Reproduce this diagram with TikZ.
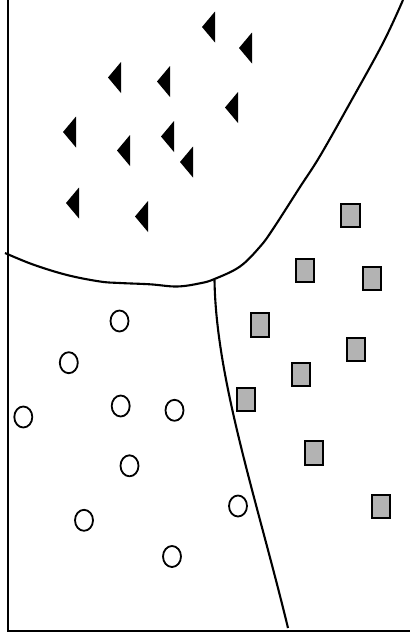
\documentclass[tikz,border=0pt]{standalone}
\usetikzlibrary{shapes.geometric}
\definecolor{sqgray}{RGB}{179,179,179}
\begin{document}
\begin{tikzpicture}[x=1pt,y=-1pt,
  axisline/.style={line width=2pt},
  boundary/.style={line width=2.1pt},
  ptcircle/.style={draw,ellipse,line width=1.8pt,minimum width=18pt,minimum height=21pt,inner sep=0pt},
  ptsquare/.style={draw,rectangle,fill=sqgray,line width=2pt,minimum width=18.5pt,minimum height=23.5pt,inner sep=0pt},
  tri/.pic={\fill[black] (-6.5,0) -- (6.5,-15.5) -- (6.5,15.5) -- cycle;}
]
\useasboundingbox (0,0) rectangle (410,640);
% axes
\coordinate (top) at (8,0);
\coordinate (origin) at (8,631);
\coordinate (right) at (410,631);
\draw[axisline] (top) -- (origin) -- (right);
% boundaries
\coordinate (junction) at (214.5,280);
\coordinate (bottomend) at (288,628);
\draw[boundary] plot[smooth,tension=0.6] coordinates {(5,253) (33,264.5) (67,275) (100,281.5) (120,283) (150,284.3) (177,286.5) (200,283.3) (214.5,279) (240,266.5) (260,246.7) (273,229) (300,187) (320,156) (350,103) (383,43) (403,0)};
\draw[boundary] (junction) .. controls (216,380) and (257,500) .. (bottomend);
% triangles
\foreach \x/\y in {208.5/27, 245.5/48, 114.5/77.5, 163.5/81.5, 231.5/107.5, 69.5/132, 123.5/150.5, 167.5/136.5, 186.5/162, 72.5/203, 141.5/216.5}
  \pic at (\x,\y) {tri};
% squares
\node[ptsquare] (s1) at (350.5,215.5) {};
\node[ptsquare] (s2) at (305,270.5) {};
\node[ptsquare] (s3) at (372,278.5) {};
\node[ptsquare] (s4) at (260,325) {};
\node[ptsquare] (s5) at (356,349.5) {};
\node[ptsquare] (s6) at (301,374.5) {};
\node[ptsquare] (s7) at (246,399.5) {};
\node[ptsquare] (s8) at (314,453) {};
\node[ptsquare] (s9) at (381,506.5) {};
% circles
\node[ptcircle] (c1) at (119.5,321) {};
\node[ptcircle] (c2) at (68.8,362.7) {};
\node[ptcircle] (c3) at (23.3,417) {};
\node[ptcircle] (c4) at (120.7,406) {};
\node[ptcircle] (c5) at (174.5,410.3) {};
\node[ptcircle] (c6) at (129.5,465.8) {};
\node[ptcircle] (c7) at (84,520.3) {};
\node[ptcircle] (c8) at (238,506) {};
\node[ptcircle] (c9) at (172,556.5) {};
\end{tikzpicture}
\end{document}
